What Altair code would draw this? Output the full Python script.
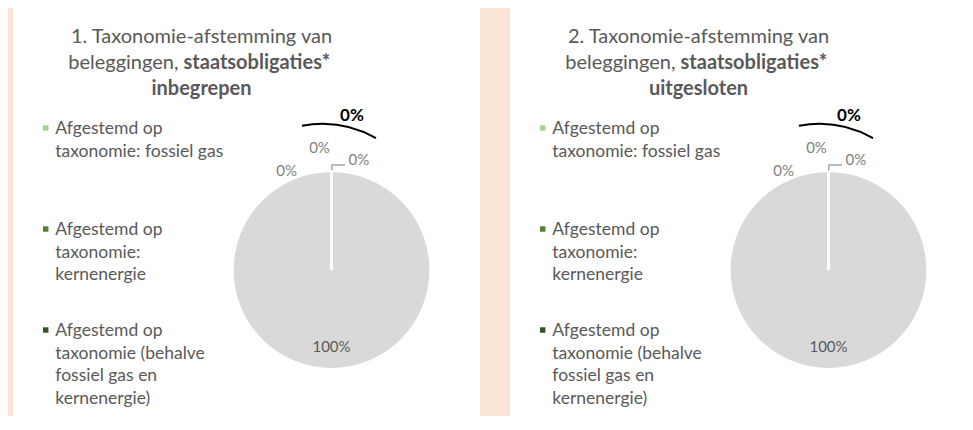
import altair as alt
import pandas as pd

# ---------------- data ----------------
categories = [
    "Afgestemd op taxonomie: fossiel gas",
    "Afgestemd op taxonomie: kernenergie",
    "Afgestemd op taxonomie (behalve fossiel gas en kernenergie)",
    "Niet op de taxonomie afgestemd",
]
values_incl = [0, 0, 0, 100]
values_excl = [0, 0, 0, 100]
pct_labels = ["0%", "0%", "0%", "100%"]
total_aligned = ["0%"]
legend_text = [
    "Afgestemd op\ntaxonomie: fossiel gas",
    "Afgestemd op\ntaxonomie:\nkernenergie",
    "Afgestemd op\ntaxonomie (behalve\nfossiel gas en\nkernenergie)",
]
title1 = ["1. Taxonomie-afstemming van", "beleggingen,", "staatsobligaties*", "inbegrepen"]
title2 = ["2. Taxonomie-afstemming van", "beleggingen,", "staatsobligaties*", "uitgesloten"]

# ---------------- styles ----------------
slice_colors = ["#A9D18E", "#548235", "#375623", "#D9D9D9"]
label_colors = ["#7F7F7F", "#7F7F7F", "#7F7F7F", "#595959"]
label_angle = [335.6, 354.4, 14.0, 180.0]   # label placement (deg, clockwise from top)
label_radius = [108.7, 122.9, 113.4, 77.0]
FONT = "Lato"
TXT = "#595959"
CX, CY, R = 318.5, 262.0, 99
H = 408
TFS = 20


def panel(values, titles, width):
    df = pd.DataFrame({
        "cat": categories,
        "value": values,
        "label": pct_labels,
        "order": list(range(len(categories))),
        "angle": label_angle,
        "r": label_radius,
        "lc": label_colors,
    })
    cscale = alt.Scale(domain=categories, range=slice_colors)

    pie_base = alt.Chart(df).encode(
        theta=alt.Theta("value:Q", stack=True),
        order=alt.Order("order:Q"),
        x=alt.value(CX), y=alt.value(CY),
    )
    pie = pie_base.mark_arc(radius=R, strokeWidth=0).encode(
        color=alt.Color("cat:N", scale=cscale, legend=None),
    )
    # slice borders drawn on top of all fills (white separators)
    pie_border = pie_base.mark_arc(radius=R, fill="white", fillOpacity=0,
                                   stroke="white", strokeWidth=2.2)

    labels = alt.Chart(df).mark_text(font=FONT, fontSize=15).encode(
        theta=alt.Theta("angle:Q", stack=False,
                        scale=alt.Scale(domain=[0, 360], range=[0, 6.283185307])),
        radius=alt.Radius("r:Q", scale=alt.Scale(type="linear", domain=[0, 200], range=[0, 200])),
        text="label:N",
        color=alt.Color("lc:N", scale=None),
        x=alt.value(CX), y=alt.value(CY),
    )

    # leader line for the third label
    base1 = alt.Chart(pd.DataFrame({"a": [0]}))
    lead_v = base1.mark_rule(color="#A6A6A6", strokeWidth=1.5).encode(
        x=alt.value(318.8), y=alt.value(156.8), y2=alt.value(162.5))
    lead_h = base1.mark_rule(color="#A6A6A6", strokeWidth=1.5).encode(
        x=alt.value(318.8), x2=alt.value(332), y=alt.value(157))

    # annotation arc + total label
    ann_arc = base1.mark_arc(fill="black", stroke="black", strokeWidth=0).encode(
        theta=alt.value(6.1), theta2=alt.value(6.796),
        radius=alt.value(111), radius2=alt.value(109),
        x=alt.value(309), y=alt.value(226),
    )
    total = alt.Chart(pd.DataFrame({"t": total_aligned})).mark_text(
        font=FONT, fontSize=17, fontWeight="bold", color="black"
    ).encode(text="t:N", x=alt.value(339), y=alt.value(107.7))

    # title
    tdf = pd.DataFrame({"t": titles})
    t_line1 = alt.Chart(tdf).transform_filter(alt.datum.t == titles[0]).mark_text(
        font=FONT, fontSize=TFS, color=TXT, align="center").encode(
        text="t:N", x=alt.value(188.5), y=alt.value(28.7))
    t_line2a = alt.Chart(tdf).transform_filter(alt.datum.t == titles[1]).mark_text(
        font=FONT, fontSize=TFS, color=TXT, align="right").encode(
        text="t:N", x=alt.value(165.5), y=alt.value(55.3))
    t_line2b = alt.Chart(tdf).transform_filter(alt.datum.t == titles[2]).mark_text(
        font=FONT, fontSize=TFS, color=TXT, align="left", fontWeight="bold").encode(
        text="t:N", x=alt.value(170.5), y=alt.value(55.3))
    t_line3 = alt.Chart(tdf).transform_filter(alt.datum.t == titles[3]).mark_text(
        font=FONT, fontSize=TFS, color=TXT, align="center", fontWeight="bold").encode(
        text="t:N", x=alt.value(188.5), y=alt.value(81.3))

    # legend
    ldf = pd.DataFrame({"cat": categories[:3], "txt": legend_text, "idx": [0, 1, 2]})
    ly = alt.Y("idx:Q", scale=alt.Scale(domain=[0, 2], range=[120, 322]), axis=None)
    leg_sym = alt.Chart(ldf).mark_square(size=30, opacity=1, filled=True).encode(
        y=ly, x=alt.value(32.7), color=alt.Color("cat:N", scale=cscale, legend=None))
    leg_txt = alt.Chart(ldf).mark_text(
        font=FONT, fontSize=17.5, color=TXT, align="left", baseline="top",
        lineBreak="\n", lineHeight=22.6, dy=-8).encode(
        y=ly, x=alt.value(42.3), text="txt:N")

    return alt.layer(
        pie, pie_border, labels, lead_v, lead_h, ann_arc, total,
        t_line1, t_line2a, t_line2b, t_line3, leg_sym, leg_txt,
    ).resolve_scale(theta="independent", radius="independent").properties(
        width=width, height=H)


chart = alt.hconcat(
    panel(values_incl, title1, 467),
    panel(values_excl, title2, 455),
    spacing=30,
).properties(
    background="#FBE5D6",
    padding={"left": 5, "top": 0, "right": 0, "bottom": 0},
).configure_view(fill="white", strokeWidth=0)

chart.save("out.html", embed_options={"renderer": "svg", "actions": False})
